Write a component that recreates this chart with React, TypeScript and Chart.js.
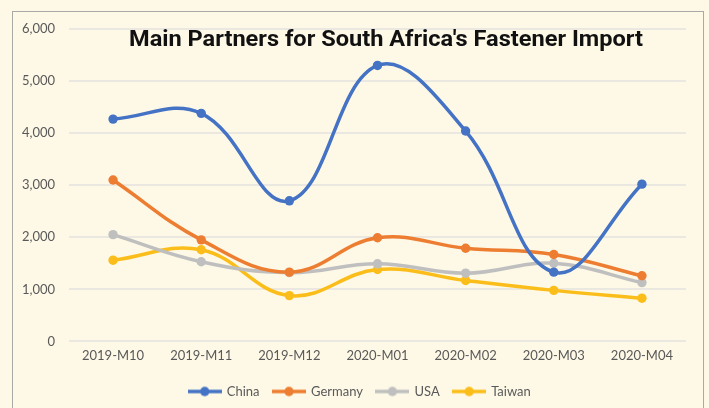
import React, { useEffect, useRef } from "react";
import { Chart, registerables } from "chart.js";

Chart.register(...registerables);

const TITLE = "Main Partners for South Africa's Fastener Import";
const categories = ["2019-M10", "2019-M11", "2019-M12", "2020-M01", "2020-M02", "2020-M03", "2020-M04"];
const china = [4270, 4380, 2700, 5300, 4040, 1330, 3020];
const germany = [3100, 1950, 1330, 1990, 1790, 1670, 1260];
const usa = [2050, 1530, 1320, 1490, 1310, 1500, 1130];
const taiwan = [1560, 1760, 880, 1380, 1170, 980, 830];
const seriesNames = ["China", "Germany", "USA", "Taiwan"];
const seriesColors = ["#4472C4", "#ED7D31", "#BFBFBF", "#FBBD1A"];
const yTicks = [0, 1000, 2000, 3000, 4000, 5000, 6000];

const BG = "#FEF9E6";
const FONT = "Lato, 'Open Sans', sans-serif";

function makeIcon(color: string): HTMLCanvasElement {
  const c = document.createElement("canvas");
  c.width = 34;
  c.height = 12;
  const ctx = c.getContext("2d")!;
  ctx.strokeStyle = color;
  ctx.lineWidth = 3.5;
  ctx.beginPath();
  ctx.moveTo(0, 6);
  ctx.lineTo(34, 6);
  ctx.stroke();
  ctx.fillStyle = color;
  ctx.beginPath();
  ctx.arc(17, 6, 4.7, 0, Math.PI * 2);
  ctx.fill();
  return c;
}

const bgPlugin = {
  id: "bgFrame",
  beforeDraw(chart: any) {
    const ctx = chart.ctx;
    ctx.save();
    ctx.fillStyle = BG;
    ctx.fillRect(0, 0, chart.width, chart.height);
    ctx.strokeStyle = "#A9A9A6";
    ctx.lineWidth = 1;
    ctx.strokeRect(12.5, 11.5, 691, 420);
    ctx.restore();
  },
};

const legendShiftPlugin = {
  id: "legendShift",
  afterLayout(chart: any) {
    const lg = chart.legend;
    if (lg) {
      lg.left += 17;
      lg.right += 17;
    }
  },
};

const titlePlugin = {
  id: "customTitle",
  afterDatasetsDraw(chart: any) {
    const ctx = chart.ctx;
    ctx.save();
    ctx.font = "bold 22px Roboto, sans-serif";
    ctx.fillStyle = "#111111";
    ctx.textBaseline = "alphabetic";
    ctx.textAlign = "left";
    const w = ctx.measureText(TITLE).width;
    const target = 514;
    const sx = target / w;
    ctx.translate(129, 45.5);
    ctx.scale(sx, 1);
    ctx.fillText(TITLE, 0, 0);
    ctx.restore();
  },
};

export default function App() {
  const ref = useRef<HTMLCanvasElement | null>(null);
  useEffect(() => {
    document.body.style.margin = "0";
    const values = [china, germany, usa, taiwan];
    const icons = seriesColors.map(makeIcon);
    const chart = new Chart(ref.current!, {
      type: "line",
      data: {
        labels: categories,
        datasets: seriesNames.map((name, i) => ({
          label: name,
          data: values[i],
          borderColor: seriesColors[i],
          backgroundColor: seriesColors[i],
          pointBackgroundColor: seriesColors[i],
          pointBorderColor: seriesColors[i],
          borderWidth: 3.5,
          pointRadius: 4.7,
          pointBorderWidth: 0,
          tension: 0.4,
          fill: false,
        })),
      },
      options: {
        responsive: false,
        animation: false,
        layout: { padding: { top: 29, right: 23, left: 0, bottom: 0 } },
        plugins: {
          title: { display: false },
          tooltip: { enabled: false },
          legend: {
            position: "bottom",
            labels: {
              font: { family: FONT, size: 13 },
              color: "#595959",
              usePointStyle: true,
              pointStyleWidth: 31,
              boxHeight: 12,
              padding: 14,
              generateLabels: (c: any) => {
                const items = Chart.defaults.plugins.legend.labels.generateLabels(c);
                return items.map((it: any, i: number) => ({ ...it, pointStyle: icons[i] }));
              },
            },
          },
        },
        scales: {
          x: {
            offset: true,
            grid: { display: false, drawTicks: false },
            border: { display: false },
            ticks: { font: { family: FONT, size: 13 }, color: "#595959", padding: 7, maxRotation: 0 },
          },
          y: {
            min: 0,
            max: 6000,
            afterBuildTicks: (s: any) => {
              s.ticks = yTicks.map((v) => ({ value: v }));
            },
            afterFit: (s: any) => {
              s.width = 69;
            },
            grid: { color: "#EAE8E0", lineWidth: 2, drawTicks: false },
            border: { display: false },
            ticks: {
              font: { family: FONT, size: 13 },
              color: "#595959",
              padding: 14,
              callback: (v: any) => Number(v).toLocaleString("en-US"),
            },
          },
        },
      },
      plugins: [bgPlugin, legendShiftPlugin, titlePlugin],
    });
    return () => chart.destroy();
  }, []);
  return (
    <div style={{ width: 709, height: 408 }}>
      <canvas ref={ref} width={709} height={408} style={{ display: "block" }} />
    </div>
  );
}
